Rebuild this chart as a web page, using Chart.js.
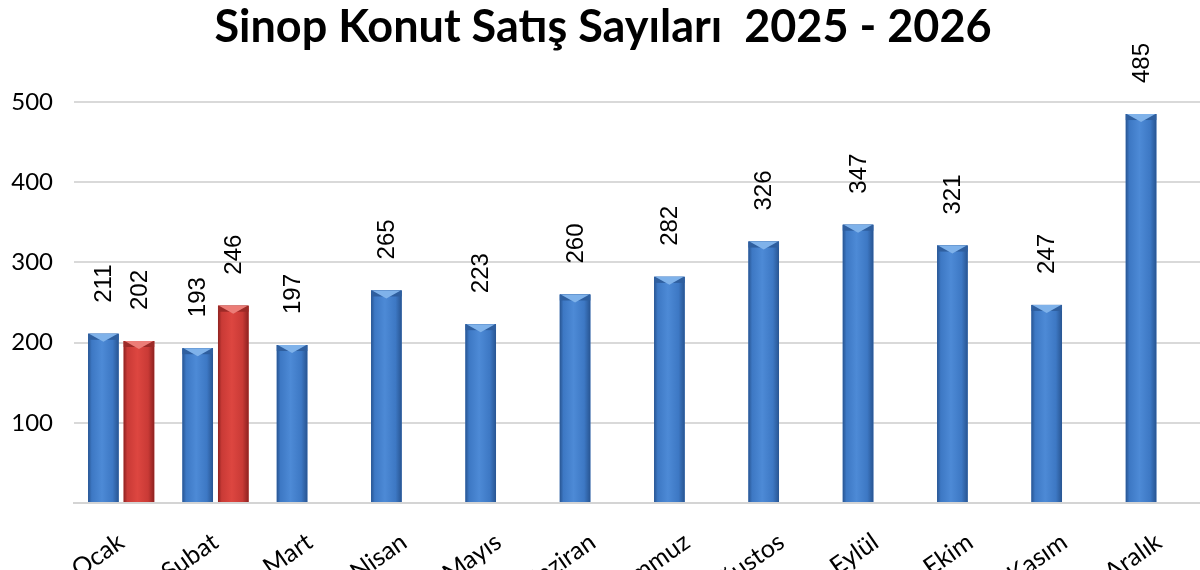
<!DOCTYPE html>
<html>
<head>
<meta charset="utf-8">
<script src="https://cdn.jsdelivr.net/npm/chart.js@4.4.1/dist/chart.umd.min.js"></script>
<style>
  html, body { margin: 0; padding: 0; background: #fff; overflow: hidden; }
  #wrap { position: absolute; left: 0; top: 0; width: 1206px; height: 570px; }
</style>
</head>
<body>
<div id="wrap"><canvas id="chart" width="1206" height="570"></canvas></div>
<script>
// months on the x axis
const months = ["Ocak", "Şubat", "Mart", "Nisan", "Mayıs", "Haziran", "Temmuz", "Ağustos", "Eylül", "Ekim", "Kasım", "Aralık"];
// house sales per month, 2025 (blue) and 2026 (red)
const sales2025 = [211, 193, 197, 265, 223, 260, 282, 326, 347, 321, 247, 485];
const sales2026 = [202, 246, null, null, null, null, null, null, null, null, null, null];
// y axis ticks
const yTicks = [0, 100, 200, 300, 400, 500];

const barColors = [
  { base: '#3d78c4', edge: '#285592', mid: '#4d8ad6', top: '#7fb2ea', side: '#2f5f9f' },
  { base: '#c93a36', edge: '#8e2220', mid: '#dd4640', top: '#ec7d77', side: '#9c2a27' }
];

// repaints bars with a cylinder-ish gradient + bevelled top and writes the values
const barLook = {
  id: 'barLook',
  afterDatasetsDraw(chart) {
    const ctx = chart.ctx;
    chart.data.datasets.forEach((ds, di) => {
      const c = barColors[di];
      chart.getDatasetMeta(di).data.forEach((bar, i) => {
        const v = ds.data[i];
        if (v === null) return;
        const left = bar.x - bar.width / 2, right = bar.x + bar.width / 2;
        const top = bar.y, bottom = bar.base;
        const g = ctx.createLinearGradient(left, 0, right, 0);
        g.addColorStop(0, c.edge);
        g.addColorStop(0.12, c.base);
        g.addColorStop(0.45, c.mid);
        g.addColorStop(0.8, c.base);
        g.addColorStop(1, c.edge);
        ctx.save();
        ctx.fillStyle = g;
        ctx.fillRect(left, top, right - left, bottom - top);
        // top bevel
        ctx.fillStyle = c.side;
        ctx.fillRect(left, top, right - left, 6);
        ctx.fillStyle = c.top;
        ctx.beginPath();
        ctx.moveTo(left + 1, top);
        ctx.lineTo(right - 1, top);
        ctx.lineTo(bar.x, top + 8);
        ctx.closePath();
        ctx.fill();
        // value label
        ctx.translate(bar.x + 1, top - 31);
        ctx.rotate(-Math.PI / 2);
        ctx.fillStyle = '#000';
        ctx.font = '24px "Liberation Sans", Arial, sans-serif';
        ctx.textAlign = 'left';
        ctx.textBaseline = 'middle';
        ctx.fillText(String(v), 0, 0);
        ctx.restore();
      });
    });
  }
};

new Chart(document.getElementById('chart'), {
  type: 'bar',
  data: {
    labels: months,
    datasets: [
      { label: '2025', data: sales2025, backgroundColor: barColors[0].base, categoryPercentage: 0.754, barPercentage: 0.86 },
      { label: '2026', data: sales2026, backgroundColor: barColors[1].base, categoryPercentage: 0.754, barPercentage: 0.86 }
    ]
  },
  options: {
    responsive: false,
    animation: false,
    layout: { padding: { left: 0, right: 0, top: 0, bottom: 0 } },
    plugins: {
      legend: { display: false },
      tooltip: { enabled: false },
      title: {
        display: true,
        text: 'Sinop Konut Satış Sayıları  2025 - 2026',
        color: '#000',
        font: { family: 'Lato', size: 45, weight: 'bold' },
        padding: { top: 0, bottom: 48 }
      }
    },
    scales: {
      x: {
        grid: { display: false },
        border: { display: true, color: '#d4d4d4', width: 2 },
        ticks: {
          color: '#000',
          font: { family: 'Lato', size: 25 },
          minRotation: 35,
          maxRotation: 35,
          padding: 16
        },
        afterFit(scale) { scale.height = 67; }
      },
      y: {
        min: yTicks[0],
        max: yTicks[yTicks.length - 1],
        afterBuildTicks(scale) { scale.ticks = yTicks.map(v => ({ value: v })); },
        grid: { color: '#d9d9d9', lineWidth: 2, drawTicks: false },
        border: { display: false },
        ticks: {
          color: '#000',
          font: { family: 'Lato', size: 24 },
          padding: 21,
          callback: v => (v === 0 ? '' : v)
        },
        afterFit(scale) { scale.width = 74; }
      }
    }
  },
  plugins: [barLook]
});
</script>
</body>
</html>
